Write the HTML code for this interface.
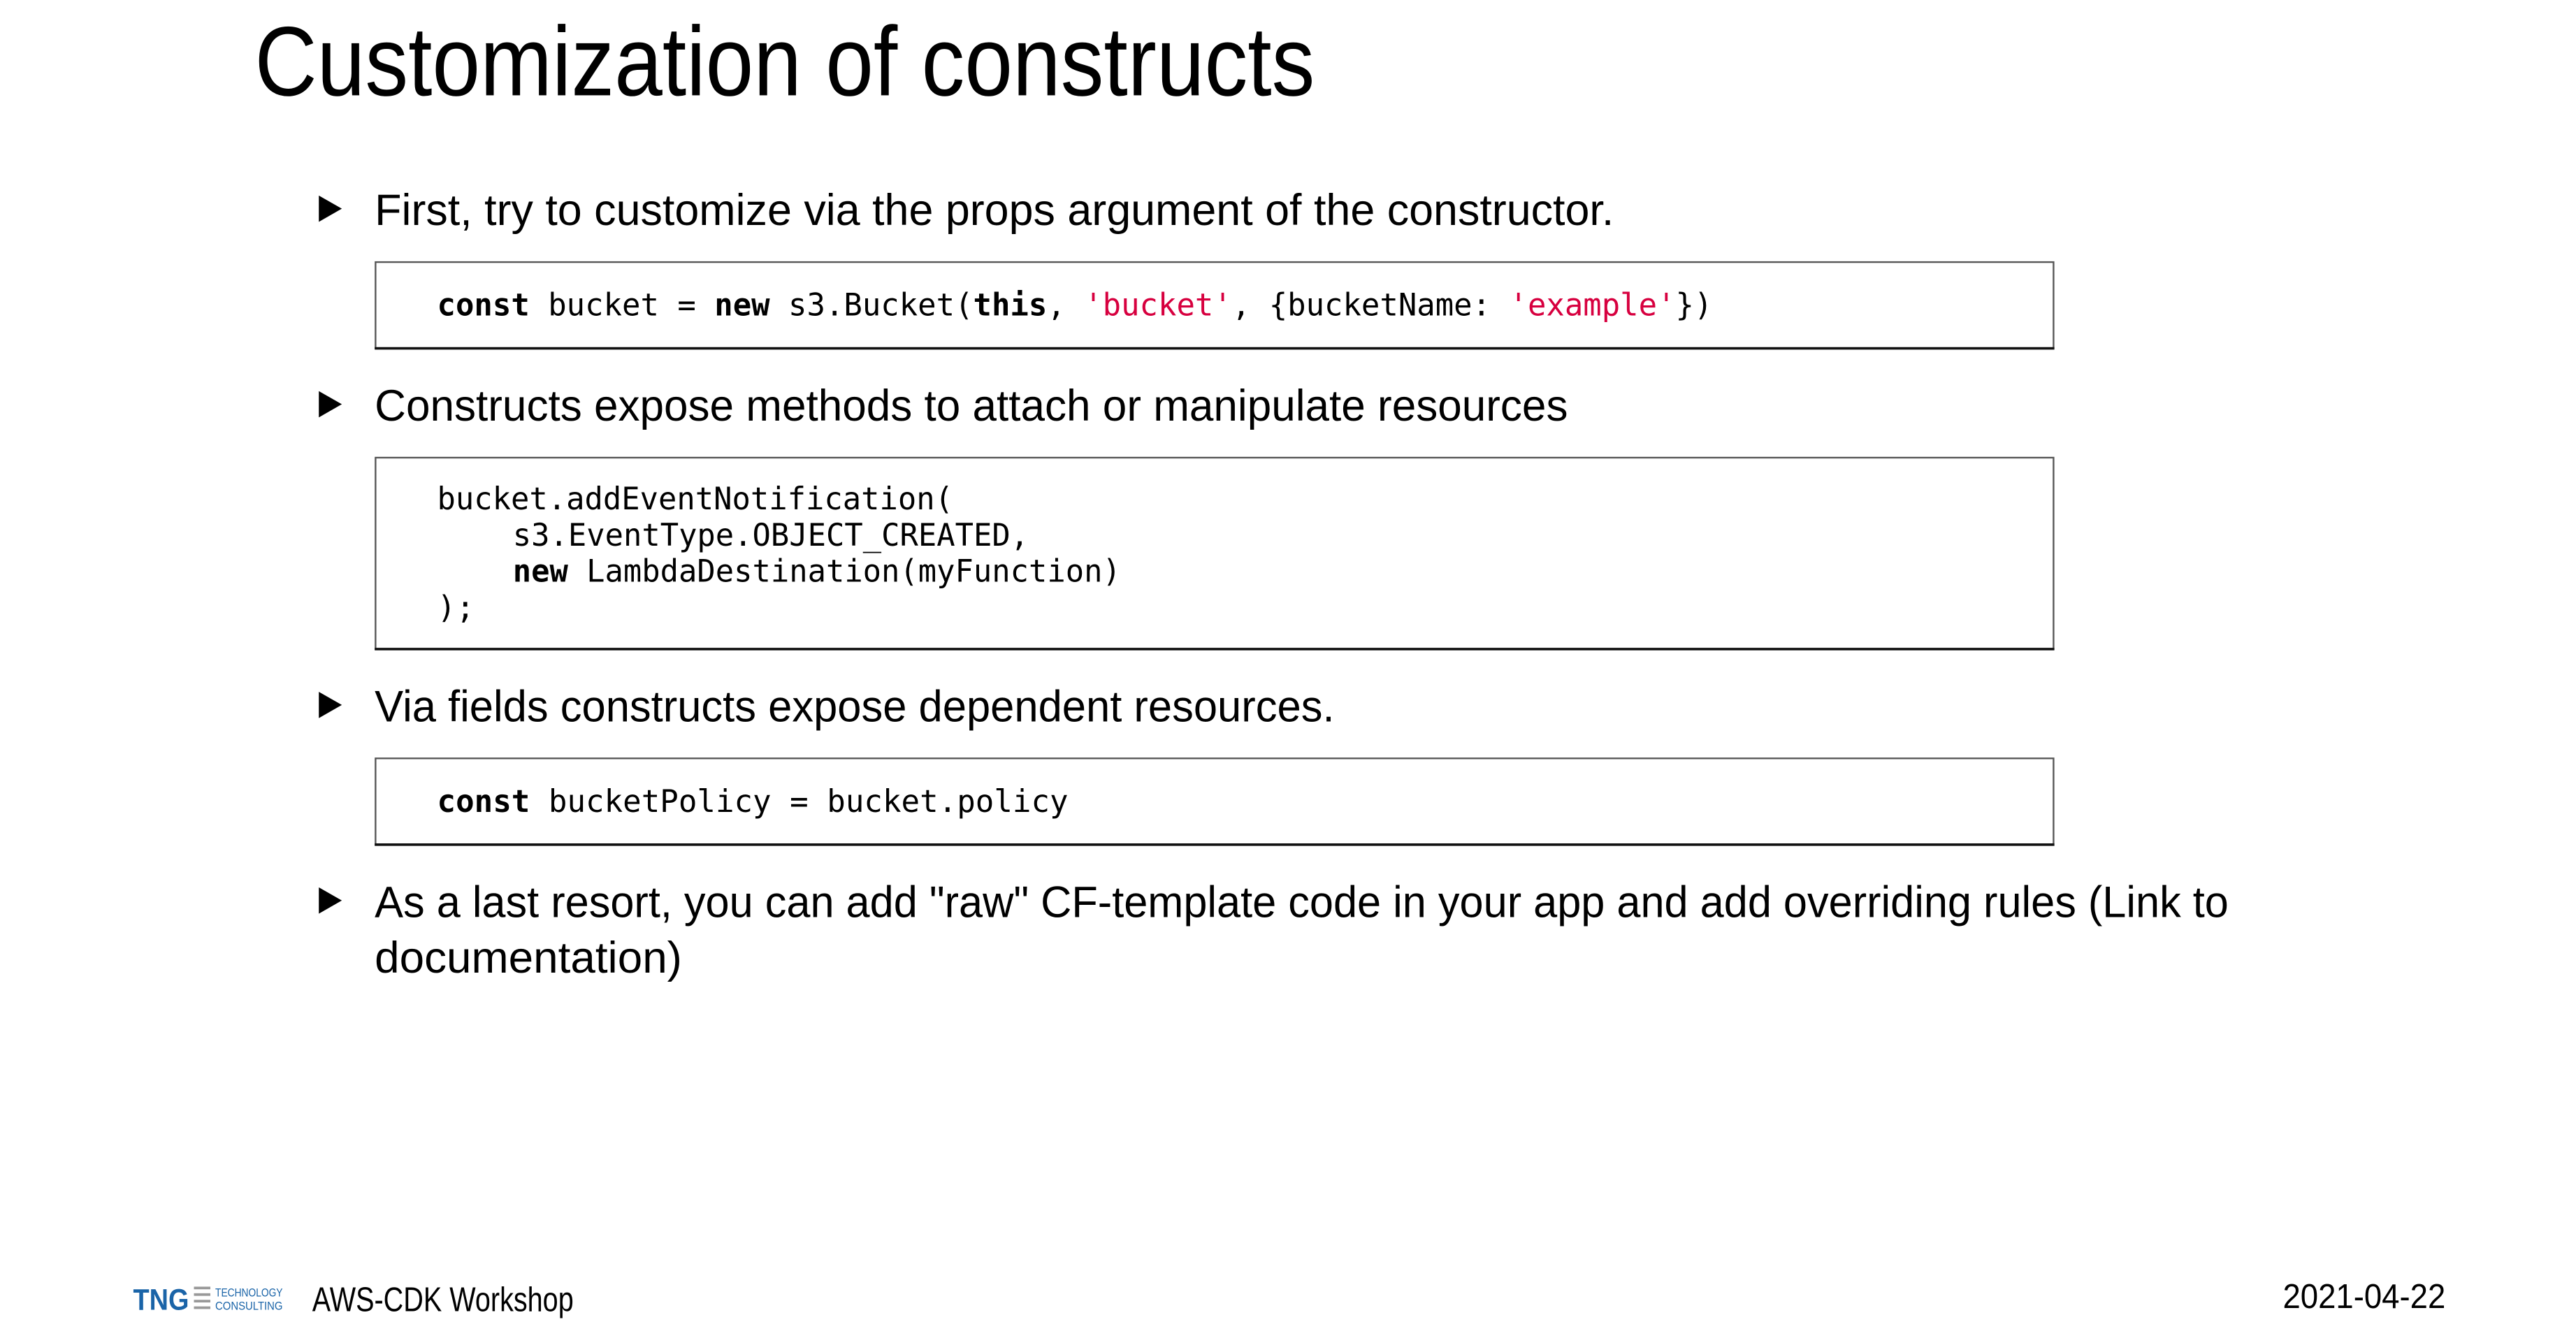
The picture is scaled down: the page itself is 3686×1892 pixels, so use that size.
<!DOCTYPE html>
<html><head><meta charset="utf-8"><style>
html,body{margin:0;padding:0;background:#fff;width:3686px;height:1892px;overflow:hidden}
svg{display:block}
.t{font-family:"Liberation Sans",sans-serif}
.m{font-family:"DejaVu Sans Mono","Liberation Mono",monospace;font-size:19px}
.b{font-weight:bold}
.s{fill:#d7003f}
</style></head><body>
<svg width="3686" height="1892" viewBox="0 0 1567.4 804.5" preserveAspectRatio="none" xmlns="http://www.w3.org/2000/svg">
<text class="t" x="155" y="58" font-size="60" textLength="645" lengthAdjust="spacingAndGlyphs">Customization of constructs</text>

<g fill="#000">
<polygon points="194,119 194,135 208,127"/>
<polygon points="194,238 194,254 208,246"/>
<polygon points="194,421 194,437 208,429"/>
<polygon points="194,540 194,556 208,548"/>
</g>

<text class="t" x="228" y="137" font-size="27" textLength="754" lengthAdjust="spacingAndGlyphs">First, try to customize via the props argument of the constructor.</text>
<rect x="228.5" y="159.5" width="1021" height="52.5" fill="none" stroke="#555" stroke-width="1"/>
<line x1="228" y1="212" x2="1250" y2="212" stroke="#111" stroke-width="1.5"/>
<text class="m" x="266" y="192" textLength="776" lengthAdjust="spacingAndGlyphs" xml:space="preserve"><tspan class="b">const</tspan> bucket = <tspan class="b">new</tspan> s3.Bucket(<tspan class="b">this</tspan>, <tspan class="s">'bucket'</tspan>, {bucketName: <tspan class="s">'example'</tspan>})</text>

<text class="t" x="228" y="256" font-size="27" textLength="726" lengthAdjust="spacingAndGlyphs">Constructs expose methods to attach or manipulate resources</text>
<rect x="228.5" y="278.5" width="1021" height="116.5" fill="none" stroke="#555" stroke-width="1"/>
<line x1="228" y1="395" x2="1250" y2="395" stroke="#111" stroke-width="1.5"/>
<text class="m" x="266" y="310" textLength="314" lengthAdjust="spacingAndGlyphs">bucket.addEventNotification(</text>
<text class="m" x="312" y="332" textLength="314" lengthAdjust="spacingAndGlyphs">s3.EventType.OBJECT_CREATED,</text>
<text class="m" x="312" y="354" textLength="370" lengthAdjust="spacingAndGlyphs" xml:space="preserve"><tspan class="b">new</tspan> LambdaDestination(myFunction)</text>
<text class="m" x="266" y="376">);</text>

<text class="t" x="228" y="439" font-size="27" textLength="584" lengthAdjust="spacingAndGlyphs">Via fields constructs expose dependent resources.</text>
<rect x="228.5" y="461.5" width="1021" height="52.5" fill="none" stroke="#555" stroke-width="1"/>
<line x1="228" y1="514" x2="1250" y2="514" stroke="#111" stroke-width="1.5"/>
<text class="m" x="266" y="494" textLength="384" lengthAdjust="spacingAndGlyphs" xml:space="preserve"><tspan class="b">const</tspan> bucketPolicy = bucket.policy</text>

<text class="t" x="228" y="558" font-size="27" textLength="1128" lengthAdjust="spacingAndGlyphs">As a last resort, you can add "raw" CF-template code in your app and add overriding rules (Link to</text>
<text class="t" x="228" y="592" font-size="27" textLength="187" lengthAdjust="spacingAndGlyphs">documentation)</text>

<text class="t b" x="81" y="797" font-size="18" fill="#1a64a8" textLength="34" lengthAdjust="spacingAndGlyphs">TNG</text>
<g fill="#999">
<rect x="118" y="783" width="10" height="1.6"/>
<rect x="118" y="787" width="10" height="1.6"/>
<rect x="118" y="791" width="10" height="1.6"/>
<rect x="118" y="795" width="10" height="1.6"/>
</g>
<text class="t" x="131" y="789" font-size="7" fill="#1a64a8" textLength="41" lengthAdjust="spacingAndGlyphs">TECHNOLOGY</text>
<text class="t" x="131" y="797" font-size="7" fill="#1a64a8" textLength="41" lengthAdjust="spacingAndGlyphs">CONSULTING</text>
<text class="t" x="190" y="798" font-size="21" textLength="159" lengthAdjust="spacingAndGlyphs">AWS-CDK Workshop</text>
<text class="t" x="1389" y="796" font-size="21" textLength="99" lengthAdjust="spacingAndGlyphs">2021-04-22</text>
</svg>
</body></html>
